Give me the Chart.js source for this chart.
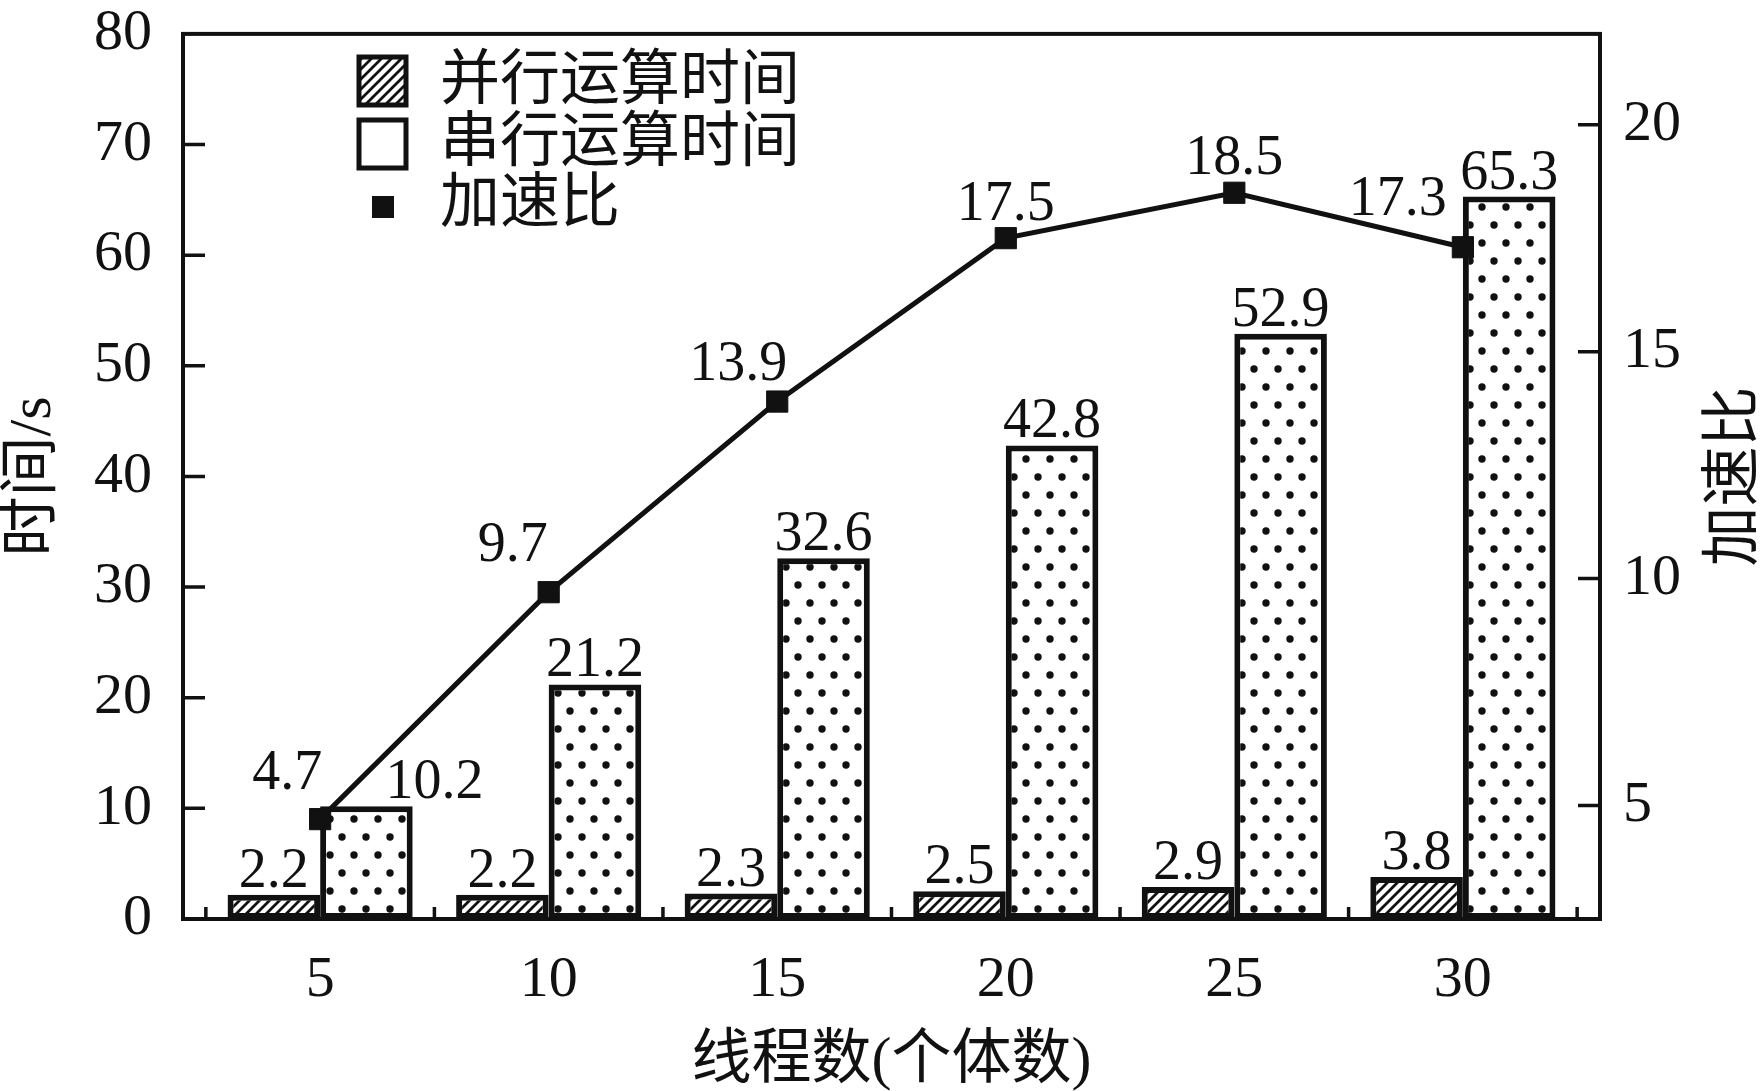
<!DOCTYPE html>
<html><head><meta charset="utf-8">
<script src="https://cdn.jsdelivr.net/npm/chart.js@4"></script>
<style>html,body{margin:0;padding:0;background:#fff;}canvas{display:block;}</style>
</head><body>
<canvas id="c" width="1761" height="1091"></canvas>
<script>
// ---- data ----
const threads = [5, 10, 15, 20, 25, 30];
const parallelTime = [2.2, 2.2, 2.3, 2.5, 2.9, 3.8];
const serialTime = [10.2, 21.2, 32.6, 42.8, 52.9, 65.3];
const speedup = [4.7, 9.7, 13.9, 17.5, 18.5, 17.3];
const leftTicks = [0, 10, 20, 30, 40, 50, 60, 70, 80];
const rightTicks = [5, 10, 15, 20];
const xMinorTicks = [2.5, 7.5, 12.5, 17.5, 22.5, 27.5, 32.5];
const seriesNames = ['并行运算时间', '串行运算时间', '加速比'];
const xTitle = '线程数(个体数)';
const yTitle = '时间/s';
const y2Title = '加速比';
// label nudges in px
const serialLabelDx = [68, 0, 0, 0, 0, 0];
const speedLabelDx = [-33, -36, -39, 0, 0, -65];
const speedLabelDy = [-30, -31, -22, -18, -19, -32];

const INK = '#111';
const SERIF = '"Liberation Serif", "Noto Sans CJK SC"';
const CJK = '"Noto Sans CJK SC", "Liberation Serif"';

const canvas = document.getElementById('c');
const ctx = canvas.getContext('2d');

function makeHatch() {
  const c = document.createElement('canvas'); c.width = 10; c.height = 10;
  const g = c.getContext('2d');
  g.fillStyle = '#fff'; g.fillRect(0, 0, 10, 10);
  g.strokeStyle = INK; g.lineWidth = 2.8; g.lineCap = 'square';
  g.beginPath();
  g.moveTo(-2, 12); g.lineTo(12, -2);
  g.moveTo(-7, 7); g.lineTo(7, -7);
  g.moveTo(3, 17); g.lineTo(17, 3);
  g.stroke();
  return ctx.createPattern(c, 'repeat');
}
function makeDots() {
  const c = document.createElement('canvas'); c.width = 24; c.height = 36;
  const g = c.getContext('2d');
  g.fillStyle = '#fff'; g.fillRect(0, 0, 24, 36);
  g.fillStyle = INK;
  [[6, 9], [18, 27]].forEach(([x, y]) => { g.beginPath(); g.arc(x, y, 3.7, 0, Math.PI * 2); g.fill(); });
  return ctx.createPattern(c, 'repeat');
}
const hatchPattern = makeHatch();
const dotPattern = makeDots();

const frameAndTicks = {
  id: 'frameAndTicks',
  afterDatasetsDraw(chart) {
    const { ctx, chartArea: a, scales } = chart;
    ctx.save();
    ctx.strokeStyle = INK;
    ctx.lineWidth = 3.5;
    ctx.beginPath();
    scales.y.ticks.forEach(t => {
      const y = scales.y.getPixelForValue(t.value);
      if (t.value > 0 && t.value < 80) { ctx.moveTo(a.left, y); ctx.lineTo(a.left + 22, y); }
    });
    scales.y2.ticks.forEach(t => {
      const y = scales.y2.getPixelForValue(t.value);
      ctx.moveTo(a.right, y); ctx.lineTo(a.right - 22, y);
    });
    xMinorTicks.forEach(v => {
      const x = scales.x.getPixelForValue(v);
      ctx.moveTo(x, a.bottom); ctx.lineTo(x, a.bottom - 12);
    });
    ctx.stroke();
    ctx.lineWidth = 4;
    ctx.strokeRect(a.left, a.top, a.right - a.left, a.bottom - a.top);
    ctx.restore();
  }
};

const valueLabels = {
  id: 'valueLabels',
  afterDatasetsDraw(chart) {
    const { ctx } = chart;
    ctx.save();
    ctx.fillStyle = INK;
    ctx.font = '56px "Liberation Serif"';
    ctx.textAlign = 'center';
    ctx.textBaseline = 'alphabetic';
    const pm = chart.getDatasetMeta(1), sm = chart.getDatasetMeta(2), lm = chart.getDatasetMeta(0);
    pm.data.forEach((el, i) => ctx.fillText(parallelTime[i].toFixed(1), el.x, el.y - 8));
    sm.data.forEach((el, i) => ctx.fillText(serialTime[i].toFixed(1), el.x + serialLabelDx[i], el.y - 8));
    lm.data.forEach((el, i) => ctx.fillText(speedup[i].toFixed(1), el.x + speedLabelDx[i], el.y + speedLabelDy[i]));
    ctx.restore();
  }
};

const customLegendAndTitle = {
  id: 'customLegendAndTitle',
  afterDraw(chart) {
    const { ctx, chartArea: a } = chart;
    ctx.save();
    const ds = chart.data.datasets;
    ctx.lineWidth = 5;
    ctx.strokeStyle = INK;
    ctx.fillStyle = ds[1].backgroundColor;
    ctx.fillRect(359, 57, 47, 48); ctx.strokeRect(359, 57, 47, 48);
    ctx.fillStyle = '#fff';
    ctx.fillRect(359, 120, 47, 48); ctx.strokeRect(359, 120, 47, 48);
    ctx.fillStyle = INK;
    ctx.fillRect(372, 196, 22, 22);
    ctx.font = '60px ' + CJK;
    ctx.textAlign = 'left'; ctx.textBaseline = 'middle';
    ctx.fillText(ds[1].label, 440, 76);
    ctx.fillText(ds[2].label, 440, 138);
    ctx.fillText(ds[0].label, 440, 199);
    ctx.translate(1729, (a.top + a.bottom) / 2);
    ctx.rotate(-Math.PI / 2);
    ctx.textAlign = 'center';
    ctx.fillText(y2Title, 0, 0);
    ctx.restore();
  }
};

const xTickFont = { family: '"Liberation Serif"', size: 58, lineHeight: 1.17 };
const yTickFont = { family: '"Liberation Serif"', size: 58, lineHeight: 0.1 };

new Chart(ctx, {
  data: {
    datasets: [
      {
        type: 'line', label: seriesNames[2],
        data: threads.map((x, i) => ({ x, y: speedup[i] })),
        xAxisID: 'x', yAxisID: 'y2',
        borderColor: INK, borderWidth: 5, tension: 0,
        pointStyle: 'rect', pointRadius: 15, pointBackgroundColor: INK,
        pointBorderColor: INK, pointBorderWidth: 1, order: 0
      },
      {
        type: 'bar', label: seriesNames[0],
        data: threads.map((x, i) => ({ x, y: parallelTime[i] })),
        xAxisID: 'x', yAxisID: 'y',
        backgroundColor: hatchPattern, borderColor: INK, borderWidth: 6, borderSkipped: false,
        categoryPercentage: 0.81, barPercentage: 1.0, order: 1
      },
      {
        type: 'bar', label: seriesNames[1],
        data: threads.map((x, i) => ({ x, y: serialTime[i] })),
        xAxisID: 'x', yAxisID: 'y',
        backgroundColor: dotPattern, borderColor: INK, borderWidth: 6, borderSkipped: false,
        categoryPercentage: 0.81, barPercentage: 1.0, order: 1
      }
    ]
  },
  options: {
    responsive: false, animation: false, devicePixelRatio: 1,
    layout: { padding: 0 },
    plugins: { legend: { display: false }, tooltip: { enabled: false } },
    scales: {
      x: {
        type: 'linear', position: 'bottom', min: 2, max: 33, offset: false,
        afterBuildTicks: s => { s.ticks = threads.map(v => ({ value: v })); },
        afterFit: s => { s.height = 172; },
        grid: { display: false, drawTicks: false }, border: { display: false },
        ticks: { font: xTickFont, color: INK, padding: 28, maxRotation: 0, autoSkip: false },
        title: { display: true, text: xTitle, color: INK, font: { family: SERIF, size: 60, lineHeight: 1.15 }, padding: { top: 0, bottom: -6 } }
      },
      y: {
        type: 'linear', position: 'left', min: 0, max: 80,
        afterBuildTicks: s => { s.ticks = leftTicks.map(v => ({ value: v })); },
        afterFit: s => { s.width = 183; },
        grid: { display: false, drawTicks: false }, border: { display: false },
        ticks: { font: yTickFont, color: INK, padding: 31 },
        title: { display: true, text: yTitle, color: INK, font: { family: SERIF, size: 60, lineHeight: 1.15 }, padding: { top: 0, bottom: 0 } }
      },
      y2: {
        type: 'linear', position: 'right', min: 2.5, max: 22,
        afterBuildTicks: s => { s.ticks = rightTicks.map(v => ({ value: v })); },
        afterFit: s => { s.width = 161; },
        grid: { display: false, drawTicks: false }, border: { display: false },
        ticks: { font: yTickFont, color: INK, padding: 23 },
        title: { display: false }
      }
    }
  },
  plugins: [frameAndTicks, valueLabels, customLegendAndTitle]
});
</script>
</body></html>
